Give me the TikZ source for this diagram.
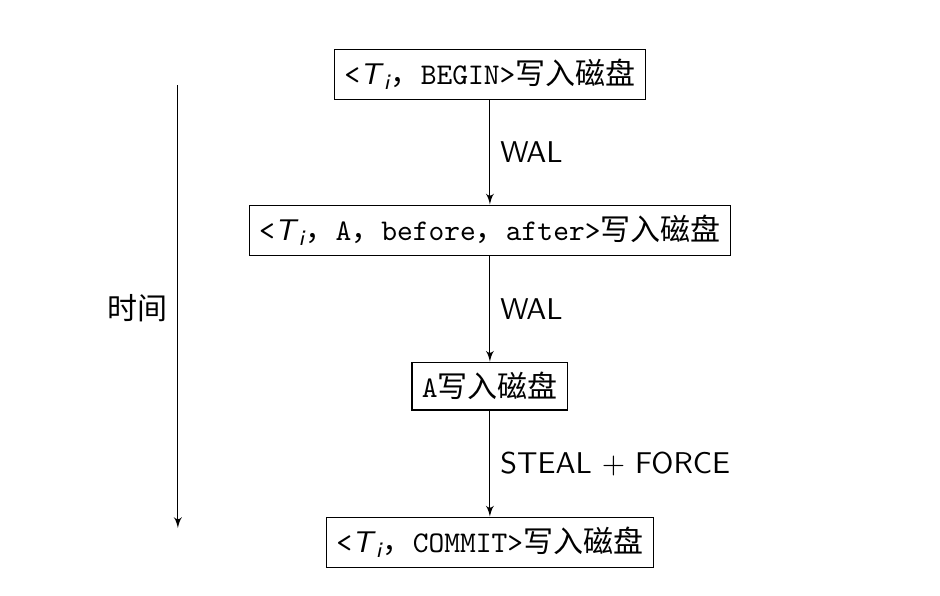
\documentclass[tikz,border=0pt,11pt]{standalone}
\usepackage{amsmath}
\usepackage{fontspec}
\newfontfamily\cjk{Noto Sans CJK SC}
\usetikzlibrary{positioning,arrows}
\newcommand{\todisk}{{\cjk 写入磁盘}}
\newcommand{\dou}{{\cjk ，}}
\newcommand{\Ti}{<\textsf{\itshape T}$_{\textsf{\itshape i}}$}

\begin{document}
\begin{tikzpicture}[every node/.style={},>=latex',
    rec/.style={draw,font=\ttfamily}]
          \useasboundingbox (-6.28,0.95) rectangle (5.77,-6.68);
          \node[rec] (n1) at (0,0) {\Ti\dou BEGIN>\todisk};
          \node[rec] (n2) at (0,-2) {\Ti\dou A\dou before\dou after>\todisk};
          \node[rec] (n3) at (0,-4) {A\todisk};
          \node[rec] (n4) at (0,-6) {\Ti\dou COMMIT>\todisk};
          \path[->] (n1.south) edge node[right] {\textsf{WAL}} (n2.north);
          \path[->] (n2.south) edge node[right] {\textsf{WAL}} (n3.north);
          \path[->] (n3.south) edge node[right] {\textsf{STEAL} $+$ \textsf{FORCE}} (n4.north);
          % time axis
          \coordinate (t1) at (-4,-0.14); \coordinate (t2) at (-4,-5.82);
          \path[->] (t1) edge (t2);
          \node (tl) at (-4.52,-3) {\cjk 时间};
        \end{tikzpicture}
\end{document}
